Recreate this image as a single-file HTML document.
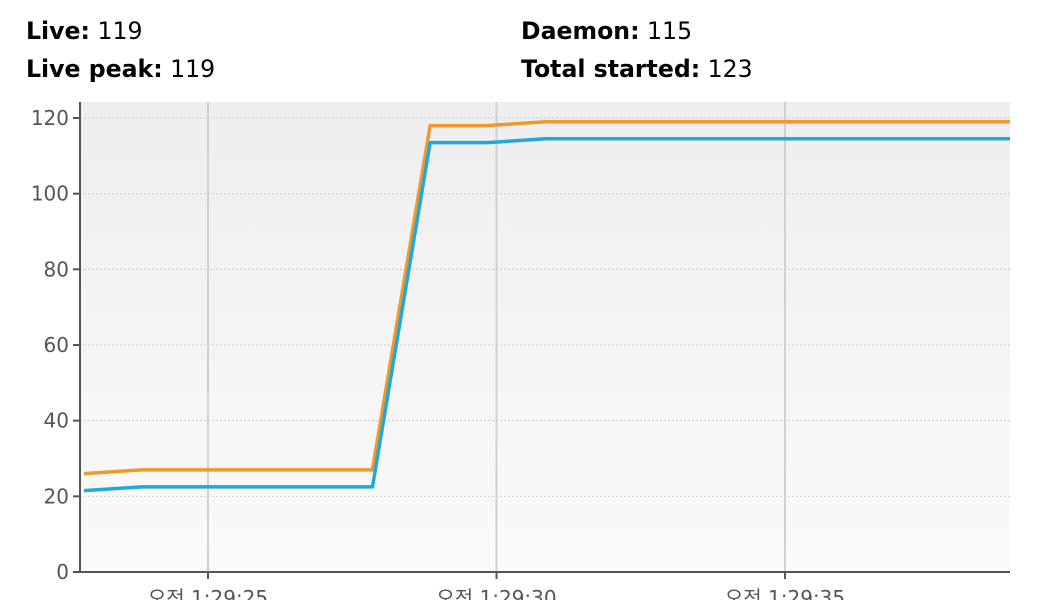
<!DOCTYPE html>
<html><head><meta charset="utf-8"><style>
body{margin:0;width:1050px;height:600px;overflow:hidden;background:#fff;font-family:"DejaVu Sans","Noto Sans CJK KR",sans-serif}
.stat{position:absolute;font-size:23.6px;color:#000}
.stat b{font-weight:bold}
</style></head><body>
<div class="stat" style="left:26px;top:17px"><b>Live:</b> 119</div>
<div class="stat" style="left:26px;top:55px"><b>Live peak:</b> 119</div>
<div class="stat" style="left:521px;top:17px"><b>Daemon:</b> 115</div>
<div class="stat" style="left:521px;top:55px"><b>Total started:</b> 123</div>
<svg id="chart" width="1050" height="600" style="position:absolute;left:0;top:0">
<defs><linearGradient id="bg" x1="0" y1="0" x2="0" y2="1"><stop offset="0" stop-color="#eeeeee"/><stop offset="1" stop-color="#fafafa"/></linearGradient></defs>
</svg>
<script>
const yTicks=[0,20,40,60,80,100,120];
const xTickSecs=[25,30,35];
const xTickLabels=["오전 1:29:25","오전 1:29:30","오전 1:29:35"];
const times=[22.85,23.85,24.85,25.85,26.85,27.85,28.85,29.85,30.85,31.85,32.85,33.85,34.85,35.85,36.85,37.85,38.9];
const liveValues=[26,27,27,27,27,27,118,118,119,119,119,119,119,119,119,119,119];
const daemonValues=[21.5,22.5,22.5,22.5,22.5,22.5,113.5,113.5,114.5,114.5,114.5,114.5,114.5,114.5,114.5,114.5,114.5];
const L=80,R=1010,T=102,B=572;
const yS=v=>B-v*(572-118)/120;
const xS=t=>208+(t-25)*57.7;
const svg=document.getElementById('chart');
const NS='http://www.w3.org/2000/svg';
function mk(tag,attrs){const e=document.createElementNS(NS,tag);for(const k in attrs)e.setAttribute(k,attrs[k]);svg.appendChild(e);return e;}
let e=mk('rect',{x:L,y:T,width:R-L,height:B-T,fill:'url(#bg)'});


yTicks.forEach(v=>{
  if(v>0){e=mk('line',{x1:L,x2:R,y1:yS(v),y2:yS(v),stroke:'#ccc','stroke-dasharray':'2,2'});
  
  }
  e=mk('line',{x1:L-7,x2:L,y1:yS(v),y2:yS(v),stroke:'#555','stroke-width':2});
  
  
  e=mk('text',{x:L-11,y:yS(v)+7,'text-anchor':'end','font-size':20,fill:'#555'});
  e.textContent=v;
  
  
});
xTickSecs.forEach((s,i)=>{
  e=mk('line',{x1:xS(s),x2:xS(s),y1:T,y2:B,stroke:'#d0d0d0','stroke-width':2});
  
  
  e=mk('line',{x1:xS(s),x2:xS(s),y1:B,y2:B+7,stroke:'#555','stroke-width':2});
  
  
  e=mk('text',{x:xS(s),y:605,'text-anchor':'middle','font-size':20,fill:'#555'});
  e.textContent=xTickLabels[i];
  
  
});
e=mk('line',{x1:L,x2:L,y1:T,y2:B+1,stroke:'#555','stroke-width':2});


e=mk('line',{x1:L,x2:R,y1:B,y2:B,stroke:'#555','stroke-width':2});


function line(vals,color,name){
  const pts=times.map((t,i)=>Math.min(xS(t),R)+','+yS(vals[i])).join(' ');
  const p=mk('polyline',{points:pts,fill:'none',stroke:color,'stroke-width':3.5,'stroke-linejoin':'round'});
  
  
}
line(liveValues,'#f0982c','live-threads-line');
line(daemonValues,'#22a8d8','daemon-threads-line');
</script>
</body></html>
